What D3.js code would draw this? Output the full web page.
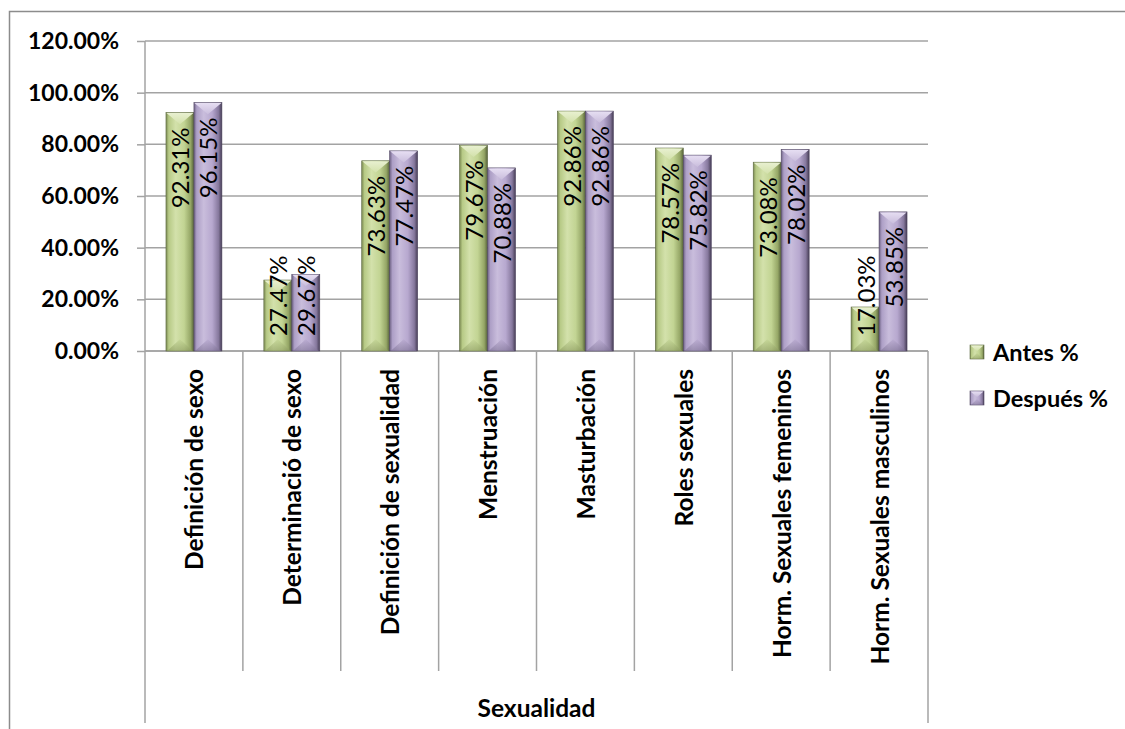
<!DOCTYPE html>
<html>
<head>
<meta charset="utf-8">
<script src="https://cdn.jsdelivr.net/npm/d3@7"></script>
<style>
  html, body { margin: 0; padding: 0; background: #fff; overflow: hidden; }
  svg { display: block; font-family: Lato, "Open Sans", sans-serif; }
</style>
</head>
<body>
<svg id="chart" width="1125" height="729"></svg>
<script>
// Topics covered in the sexuality module
const categories = [
  "Definición de sexo",
  "Determinació de sexo",
  "Definición de sexualidad",
  "Menstruación",
  "Masturbación",
  "Roles sexuales",
  "Horm. Sexuales femeninos",
  "Horm. Sexuales masculinos"
];
const seriesNames = ["Antes %", "Después %"];
// Share of correct answers before and after the session
const antes   = [0.9231, 0.2747, 0.7363, 0.7967, 0.9286, 0.7857, 0.7308, 0.1703];
const despues = [0.9615, 0.2967, 0.7747, 0.7088, 0.9286, 0.7582, 0.7802, 0.5385];
const yTicks = [0, 0.2, 0.4, 0.6, 0.8, 1.0, 1.2];
const groupLabel = "Sexualidad";

const svg = d3.select("#chart");
const plot = { left: 145, right: 928, top: 41, bottom: 351 };

// outer frame of the chart area (runs off the right and bottom edges)
svg.append("path")
  .attr("d", "M9.5,729V11.5H1125")
  .attr("fill", "none").attr("stroke", "#8c8c8c").attr("stroke-width", 1.5);

const y = d3.scaleLinear().domain([0, 1.2]).range([plot.bottom, plot.top]);
const x0 = d3.scaleBand().domain(categories).range([plot.left, plot.right]).paddingInner(0).paddingOuter(0);
const x1 = d3.scaleBand().domain(seriesNames).range([0, x0.bandwidth()]).paddingInner(0).paddingOuter(0.75);

// palettes for the bevelled bars
const palettes = {
  "Antes %":   { stops: ["#7b8a52", "#b7ca86", "#d3e1ab", "#c2d493", "#95a666", "#55613a"], top: "#e8f0d0", bottom: "#8a995e", edge: "#5b6740" },
  "Después %": { stops: ["#6f6385", "#ad9fc6", "#c9bddc", "#b7a8cf", "#86789d", "#463d55"], top: "#e6def2", bottom: "#7b6f92", edge: "#4f4561" }
};
const defs = svg.append("defs");
seriesNames.forEach((s, i) => {
  const g = defs.append("linearGradient").attr("id", "grad" + i)
    .attr("x1", "0%").attr("x2", "100%").attr("y1", "0%").attr("y2", "0%");
  const offs = [0, 0.1, 0.35, 0.65, 0.88, 1];
  palettes[s].stops.forEach((c, k) => g.append("stop").attr("offset", offs[k]).attr("stop-color", c));
  const t = defs.append("linearGradient").attr("id", "top" + i)
    .attr("x1", "0%").attr("x2", "0%").attr("y1", "0%").attr("y2", "100%");
  t.append("stop").attr("offset", 0).attr("stop-color", palettes[s].top);
  t.append("stop").attr("offset", 1).attr("stop-color", palettes[s].stops[2]);
  const bt = defs.append("linearGradient").attr("id", "bot" + i)
    .attr("x1", "0%").attr("x2", "0%").attr("y1", "0%").attr("y2", "100%");
  bt.append("stop").attr("offset", 0).attr("stop-color", palettes[s].stops[3]);
  bt.append("stop").attr("offset", 1).attr("stop-color", palettes[s].bottom);
});

// horizontal gridlines
svg.append("g").selectAll("line").data(yTicks).join("line")
  .attr("x1", plot.left).attr("x2", plot.right)
  .attr("y1", d => y(d)).attr("y2", d => y(d))
  .attr("stroke", "#a3a3a3").attr("stroke-width", 1.5);

// y axis
const yAxis = svg.append("g").attr("transform", `translate(${plot.left},0)`)
  .call(d3.axisLeft(y).tickValues(yTicks).tickSize(8).tickPadding(18)
    .tickFormat(d => (d * 100).toFixed(2) + "%"));
yAxis.select(".domain").attr("stroke", "#a3a3a3").attr("stroke-width", 1.5).attr("d", `M-0,${plot.top}V${plot.bottom}`);
yAxis.selectAll(".tick line").attr("stroke", "#a3a3a3").attr("stroke-width", 1.5);
yAxis.selectAll(".tick text").attr("font-family", "Lato, sans-serif").attr("font-size", 23)
  .attr("font-weight", "bold").attr("fill", "#000");

// category axis: dividers below the baseline
svg.append("line").attr("x1", plot.left).attr("x2", plot.right)
  .attr("y1", plot.bottom).attr("y2", plot.bottom)
  .attr("stroke", "#a3a3a3").attr("stroke-width", 1.5);
const bounds = categories.map(c => x0(c)).concat([plot.right]);
svg.append("g").selectAll("line").data(bounds).join("line")
  .attr("x1", d => d).attr("x2", d => d)
  .attr("y1", plot.bottom)
  .attr("y2", (d, i) => (i === 0 || i === bounds.length - 1) ? 723 : 671)
  .attr("stroke", "#a3a3a3").attr("stroke-width", 1.5);

// bars with a pyramid bevel
function bevelBar(g, x, yTop, w, h, si) {
  const p = palettes[seriesNames[si]];
  const b = Math.min(w * 0.42, h / 2);
  g.append("rect").attr("x", x).attr("y", yTop).attr("width", w).attr("height", h)
    .attr("fill", `url(#grad${si})`).attr("stroke", p.edge).attr("stroke-width", 0.6);
  g.append("polygon")
    .attr("points", [[x + 0.5, yTop + 0.5], [x + w - 0.5, yTop + 0.5], [x + w / 2, yTop + b]].map(q => q.join(",")).join(" "))
    .attr("fill", `url(#top${si})`);
  g.append("polygon")
    .attr("points", [[x + 1, yTop + h], [x + w - 1, yTop + h], [x + w / 2, yTop + h - b]].map(q => q.join(",")).join(" "))
    .attr("fill", `url(#bot${si})`).attr("opacity", 0.6);
}

const series = [antes, despues];
const barG = svg.append("g");
const labelG = svg.append("g");
categories.forEach((c, ci) => {
  series.forEach((vals, si) => {
    const v = vals[ci];
    const bx = x0(c) + x1(seriesNames[si]);
    const w = x1.bandwidth();
    const yTop = y(v);
    const h = y(0) - yTop;
    bevelBar(barG, bx, yTop, w, h, si);

    const txt = labelG.append("text")
      .attr("font-family", "Lato, sans-serif").attr("font-size", 24)
      .attr("fill", "#000").attr("dominant-baseline", "central")
      .text((v * 100).toFixed(2) + "%");
    const len = txt.node().getComputedTextLength();
    const pad = 15;
    const cx = bx + w / 2;
    let ty, anchor;
    if (h >= len + 2 * pad) { ty = yTop + pad; anchor = "end"; }
    else { ty = y(0) - pad; anchor = "start"; }
    txt.attr("text-anchor", anchor)
      .attr("transform", `translate(${cx},${ty}) rotate(-90)`);
  });
});

// category labels
svg.append("g").selectAll("text").data(categories).join("text")
  .attr("transform", d => `translate(${x0(d) + x0.bandwidth() / 2},369) rotate(-90)`)
  .attr("text-anchor", "end").attr("dominant-baseline", "central")
  .attr("font-family", "Lato, sans-serif").attr("font-size", 24.5).attr("font-weight", "bold")
  .attr("fill", "#000").text(d => d);

svg.append("text")
  .attr("x", (plot.left + plot.right) / 2).attr("y", 707)
  .attr("text-anchor", "middle").attr("dominant-baseline", "central")
  .attr("font-family", "Lato, sans-serif").attr("font-size", 24.5).attr("font-weight", "bold")
  .text(groupLabel);

// legend
const legend = svg.append("g");
seriesNames.forEach((s, i) => {
  const ly = 352 + i * 46;
  bevelBar(legend, 970, ly - 7, 14, 14, i);
  legend.append("text").attr("x", 993).attr("y", ly)
    .attr("dominant-baseline", "central")
    .attr("font-family", "Lato, sans-serif").attr("font-size", 23.5).attr("font-weight", "bold")
    .text(s);
});
</script>
</body>
</html>
